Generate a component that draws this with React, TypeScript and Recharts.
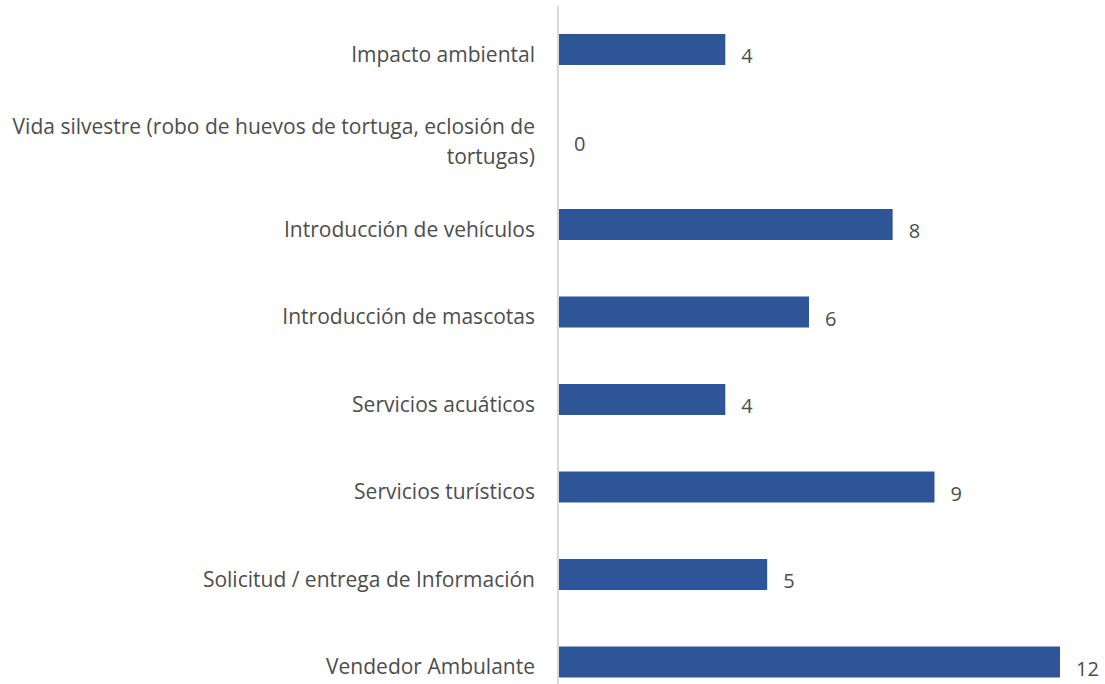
import React from 'react';
import { BarChart, Bar, XAxis, YAxis, LabelList } from 'recharts';

const categories = [
  'Impacto ambiental',
  'Vida silvestre (robo de huevos de tortuga, eclosión de\ntortugas)',
  'Introducción de vehículos',
  'Introducción de mascotas',
  'Servicios acuáticos',
  'Servicios turísticos',
  'Solicitud / entrega de Información',
  'Vendedor Ambulante',
];
const values = [4, 0, 8, 6, 4, 9, 5, 12];

const data = categories.map((c, i) => ({ name: c, value: values[i] }));

const FONT = '"Open Sans", sans-serif';
const TEXT = '#4D4D4D';

const Tick = (props: any) => {
  const { x, y, payload } = props;
  const lines = String(payload.value).split('\n');
  const lh = 30;
  const start = -((lines.length - 1) * lh) / 2;
  return (
    <text x={x} y={y} textAnchor="end" fill={TEXT} fontSize={21} fontFamily={FONT}>
      {lines.map((l, i) => (
        <tspan key={i} x={x} dy={i === 0 ? start + 12 : lh}>
          {l}
        </tspan>
      ))}
    </text>
  );
};

export default function App() {
  return (
    <div style={{ position: 'absolute', left: 0, top: 0, width: 1105, height: 684, overflow: 'hidden', background: '#fff' }}>
      <BarChart
        width={1105}
        height={720}
        data={data}
        layout="vertical"
        margin={{ top: 6, right: 45, bottom: 14, left: 0 }}
      >
        <XAxis type="number" domain={[0, 12]} hide />
        <YAxis
          type="category"
          dataKey="name"
          width={558}
          axisLine={{ stroke: '#D9D9D9', strokeWidth: 2 }}
          tickLine={false}
          tickSize={6}
          tickMargin={17}
          tick={<Tick />}
          interval={0}
        />
        <Bar dataKey="value" fill="#2E5597" barSize={31} minPointSize={0.01} isAnimationActive={false}>
          <LabelList
            dataKey="value"
            position="right"
            offset={16}
            fill={TEXT}
            fontSize={20}
            fontFamily={FONT}
            dy={6.5}
          />
        </Bar>
      </BarChart>
    </div>
  );
}
